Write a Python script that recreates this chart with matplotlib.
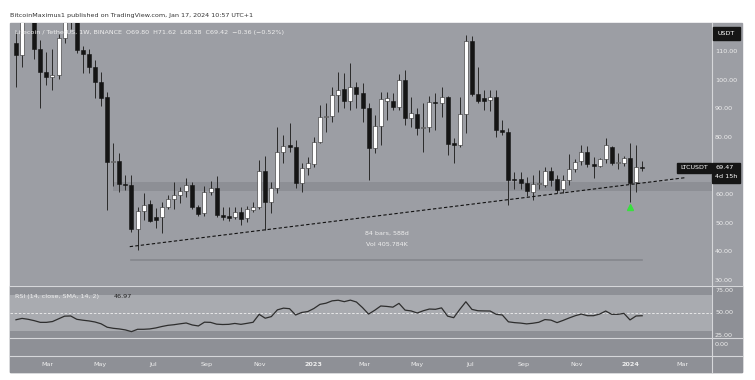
import matplotlib
matplotlib.use("Agg")
import matplotlib.pyplot as plt
import matplotlib.dates as mdates
from matplotlib.patches import Rectangle
import pandas as pd
import numpy as np

# ---------------- data ----------------
first_week = "2022-01-24"
opens = [112.9,108.8,130.0,139.0,110.8,103.0,101.2,101.8,114.6,124.0,
         125.0,110.5,109.0,104.7,99.5,94.0,71.5,71.8,63.7,63.2,
         48.0,54.4,56.7,52.0,52.3,55.8,58.5,59.9,61.3,63.4,
         55.8,53.5,61.0,62.2,52.8,52.5,52.0,54.0,51.7,54.5,
         55.6,68.4,57.5,62.2,75.0,77.3,76.5,64.2,69.2,70.7,
         78.5,87.0,87.5,94.8,96.9,92.7,97.7,95.6,90.2,76.2,
         84.0,92.8,92.8,90.5,100.0,86.7,88.2,83.4,83.5,92.5,
         92.0,94.2,77.9,77.2,88.2,113.8,95.2,93.7,93.1,94.0,
         82.6,82.0,65.3,65.3,64.2,61.0,63.6,63.4,68.4,65.3,
         61.9,65.1,69.0,71.7,75.0,70.6,70.1,72.3,76.6,71.2,
         71.2,72.9,64.3,69.80]
highs = [117.0,136.0,151.0,143.0,114.0,110.0,111.0,116.0,125.0,135.0,
         128.0,112.0,111.0,107.0,102.7,96.0,78.0,74.5,66.8,66.8,
         55.8,60.6,58.0,55.3,57.5,60.0,64.5,62.5,65.8,64.5,
         56.5,63.0,64.9,66.5,55.5,55.5,55.5,55.5,56.0,57.5,
         72.0,73.5,64.5,83.7,80.8,85.2,79.0,71.0,73.0,80.0,
         91.3,92.0,97.7,103.0,102.6,106.0,99.5,99.0,92.0,87.8,
         96.0,96.0,95.4,102.0,103.6,94.2,90.2,92.0,94.5,95.4,
         97.7,94.5,79.8,94.2,115.8,115.5,104.7,96.6,96.6,96.6,
         86.0,83.2,68.0,68.0,66.0,66.8,68.5,69.5,69.5,67.0,
         67.0,74.3,72.5,77.3,77.0,73.3,72.8,79.7,77.0,74.5,
         73.5,77.9,77.3,71.62]
lows = [97.7,104.7,125.5,107.5,90.3,98.3,96.6,100.5,113.0,118.0,
        109.5,102.5,102.5,93.8,91.0,54.6,63.0,61.0,61.6,47.0,
        40.6,51.0,50.3,48.3,46.6,54.8,55.0,57.0,59.3,55.0,
        52.5,52.5,60.0,52.0,51.0,50.8,51.5,49.5,50.5,53.8,
        54.8,47.6,53.5,60.5,71.0,75.0,62.3,61.0,67.0,69.5,
        78.0,82.0,85.5,89.0,90.2,89.6,90.2,85.5,65.1,74.4,
        77.3,86.0,89.6,89.5,84.3,83.7,80.8,75.0,82.0,82.6,
        87.2,73.8,71.0,76.8,81.5,94.5,92.0,89.6,89.3,80.0,
        80.8,56.4,62.0,62.0,59.5,58.1,62.0,62.5,63.0,60.5,
        60.5,63.5,68.0,70.5,69.5,65.7,69.5,71.0,70.5,69.0,
        70.0,57.5,61.0,68.38]
closes = [108.8,130.0,139.0,110.8,103.0,101.2,101.8,114.6,124.0,125.0,
          110.5,109.0,104.7,99.5,93.7,71.5,71.8,63.7,63.2,48.0,
          54.3,56.4,50.9,51.1,55.7,58.5,59.9,61.3,63.4,55.6,
          53.2,61.0,62.2,52.7,52.0,51.9,54.0,51.4,54.8,55.5,
          68.4,57.5,62.3,75.0,77.0,76.7,64.2,69.2,71.0,78.5,
          87.2,87.5,94.8,96.6,92.7,97.7,95.2,90.2,76.2,84.0,
          93.3,93.7,90.5,100.0,86.7,88.4,83.4,83.8,92.5,92.0,
          94.2,77.7,77.2,88.2,113.8,95.2,92.8,92.8,94.0,82.6,
          82.0,65.1,65.0,63.9,61.4,63.6,64.0,68.4,65.1,61.6,
          65.1,69.0,71.5,75.0,70.7,70.1,72.3,77.3,71.2,71.4,
          72.7,63.9,69.8,69.42]
rsi = [42.5,44.0,43.0,41.5,39.6,39.6,40.5,43.5,46.5,46.7,
       43.0,42.0,41.2,40.0,38.0,34.2,33.0,32.3,31.2,29.3,
       31.9,31.9,32.3,33.4,35.0,36.3,37.0,38.0,38.9,36.7,
       35.6,39.8,39.6,37.6,37.2,37.4,38.4,37.4,38.5,39.7,
       48.5,44.2,46.0,53.5,55.4,54.8,47.8,50.6,51.6,55.0,
       59.6,60.9,63.5,64.2,62.6,64.3,62.2,56.0,48.8,53.0,
       57.8,57.3,56.5,60.7,53.2,52.3,50.0,52.5,54.4,54.1,
       55.7,46.5,44.8,54.0,62.5,54.0,52.5,52.3,52.2,48.5,
       47.8,40.2,39.3,38.8,37.9,38.6,39.7,42.7,42.1,39.3,
       41.8,44.5,47.0,48.8,47.0,47.0,48.8,52.2,48.5,48.5,
       49.6,42.3,46.7,46.97]

price_ticks = [110, 100, 90, 80, 60, 50, 40, 30]
rsi_ticks = [75, 50, 25]
time_ticks = ["2022-03-01", "2022-05-01", "2022-07-01", "2022-09-01", "2022-11-01",
              "2023-01-01", "2023-03-01", "2023-05-01", "2023-07-01", "2023-09-01",
              "2023-11-01", "2024-01-01", "2024-03-01"]
time_labels = ["Mar", "May", "Jul", "Sep", "Nov", "2023", "Mar", "May", "Jul",
               "Sep", "Nov", "2024", "Mar"]

zone_start, zone_low, zone_high = "2022-05-16", 61.2, 64.5
trend_dates, trend_prices = ["2022-06-04", "2024-03-04"], [41.8, 65.9]
range_dates, range_price = ["2022-06-06", "2024-01-15"], 37.1
signal_date, signal_price = "2024-01-01", 55.7
last_price, countdown = "69.47", "4d 15h"
title = "BitcoinMaximus1 published on TradingView.com, Jan 17, 2024 10:57 UTC+1"
legend = "Litecoin / TetherUS, 1W, BINANCE  O69.80  H71.62  L68.38  C69.42  \u22120.36 (\u22120.52%)"
rsi_label, rsi_value = "RSI (14, close, SMA, 14, 2)", "46.97"

# ---------------- layout ----------------
W, H = 755, 380
fig = plt.figure(figsize=(W / 100, H / 100), dpi=100, facecolor="white")
plt.rcParams["font.family"] = ["DejaVu Sans"]

def rect(x0, y0, x1, y1):
    return [x0 / W, 1 - y1 / H, (x1 - x0) / W, (y1 - y0) / H]

GREY = "#9c9ea4"
DARK = "#8e9096"
BAND = "#a9abb0"
SEP = "#d6d7da"
TXT = "#eeeeee"

bg = fig.add_axes([0, 0, 1, 1])
bg.set_xlim(0, W); bg.set_ylim(H, 0); bg.axis("off")
bg.add_patch(Rectangle((10, 23), 732, 349, color=GREY, zorder=0))
bg.add_patch(Rectangle((10, 286), 732, 86, color=DARK, zorder=0.5))
for yy in (285.5, 338, 356):
    bg.plot([10, 742], [yy, yy], color=SEP, lw=0.8, zorder=1)
bg.plot([712, 712], [23, 372], color=SEP, lw=0.8, zorder=1)
bg.text(10, 16, title, fontsize=4.6, color="#333333", va="center", ha="left")

dates = pd.date_range(first_week, periods=len(closes), freq="7D")
xn = mdates.date2num(dates)
d0 = mdates.date2num(pd.Timestamp("2023-01-01"))
xl = (d0 + (10 - 313) * 365 / 317, d0 + (712 - 313) * 365 / 317)

ax = fig.add_axes(rect(10, 23, 712, 285))
ax.set_facecolor("none")
ax.set_xlim(*xl)
ax.set_ylim(70 - (285 - 166) / 2.86, 70 + (166 - 23) / 2.86)
ax.axis("off")

o = np.array(opens); c = np.array(closes); hi = np.array(highs); lo = np.array(lows)
up = c >= o
ax.vlines(xn, lo, hi, color="#2a2a2a", lw=0.7, zorder=3)
bw = 4.6
hgt = np.maximum(np.abs(c - o), 0.35)
bot = np.minimum(o, c)
ax.bar(xn[up], hgt[up], bottom=bot[up], width=bw, color="white",
       edgecolor="#2a2a2a", lw=0.4, zorder=4)
ax.bar(xn[~up], hgt[~up], bottom=bot[~up], width=bw, color="#151515",
       edgecolor="#151515", lw=0.4, zorder=4)

zs = mdates.date2num(pd.Timestamp(zone_start))
ax.add_patch(Rectangle((zs, zone_low), xl[1] - zs, zone_high - zone_low,
                       color="#8a8c92", alpha=0.8, lw=0, zorder=1))
ax.plot(pd.to_datetime(trend_dates), trend_prices, color="#111111", lw=0.8,
        ls=(0, (3, 2)), zorder=5)
ax.plot(pd.to_datetime(range_dates), [range_price] * 2, color="#85878d", lw=1.2, zorder=2)
mid = pd.to_datetime(range_dates).mean()
ax.text(mid, range_price + 9.5, "84 bars, 588d", fontsize=4.6, color=TXT, ha="center", va="center")
ax.text(mid, range_price + 5.3, "Vol 405.784K", fontsize=4.6, color=TXT, ha="center", va="center")
ax.plot([pd.Timestamp(signal_date)], [signal_price], marker="^", ms=5, color="#39e03f",
        mec="#39e03f", zorder=6)
ax.text(0.007, 0.963, legend, transform=ax.transAxes, fontsize=4.6, color=TXT,
        ha="left", va="center", zorder=7)

# RSI
ar = fig.add_axes(rect(10, 286, 712, 338))
ar.set_facecolor("none")
ar.set_xlim(*xl)
ar.set_ylim(50 - (338 - 313) / 0.9, 50 + (313 - 286) / 0.9)
ar.axis("off")
ar.axhspan(30, 70, color=BAND, lw=0, zorder=0)
ar.axhline(50, color="#f0f0f0", lw=0.6, ls=(0, (3, 2)), zorder=1)
ar.plot(xn, rsi, color="#2e2e2e", lw=0.9, zorder=3)
ar.text(0.007, 0.8, rsi_label, transform=ar.transAxes, fontsize=4.6, color=TXT,
        ha="left", va="center")
ar.text(0.148, 0.8, rsi_value, transform=ar.transAxes, fontsize=4.6, color="#222222",
        ha="left", va="center")

# price axis labels
for p in price_ticks:
    bg.text(715, 166 - (p - 70) * 2.86, f"{p:.2f}", fontsize=4.6, color=TXT,
            ha="left", va="center")
for r in rsi_ticks:
    bg.text(715, 313 - (r - 50) * 0.9, f"{r:.2f}", fontsize=4.6, color=TXT,
            ha="left", va="center")
bg.text(715, 345, "0.00", fontsize=4.6, color=TXT, ha="left", va="center")

# label boxes
bg.add_patch(Rectangle((713, 27), 27, 13, color="#151515", zorder=5))
bg.text(726.5, 33.5, "USDT", fontsize=4.6, color="white", ha="center", va="center", zorder=6)
bg.add_patch(Rectangle((677, 162.5), 34, 10, color="#151515", zorder=5))
bg.text(694, 167.5, "LTCUSDT", fontsize=4.6, color="white", ha="center", va="center", zorder=6)
bg.add_patch(Rectangle((712, 162.5), 28, 20, color="#151515", zorder=5))
bg.text(715, 167.5, last_price, fontsize=4.6, color="white", ha="left", va="center", zorder=6)
bg.text(715, 177, countdown, fontsize=4.6, color="white", ha="left", va="center", zorder=6)

# time axis
for t, lab in zip(time_ticks, time_labels):
    xv = mdates.date2num(pd.Timestamp(t))
    px = 10 + (xv - xl[0]) / (xl[1] - xl[0]) * 702
    bg.text(px, 364.5, lab, fontsize=4.6, color=TXT, ha="center", va="center",
            fontweight="bold" if lab.isdigit() else "normal")

fig.savefig("out.png", dpi=100, facecolor="white")
